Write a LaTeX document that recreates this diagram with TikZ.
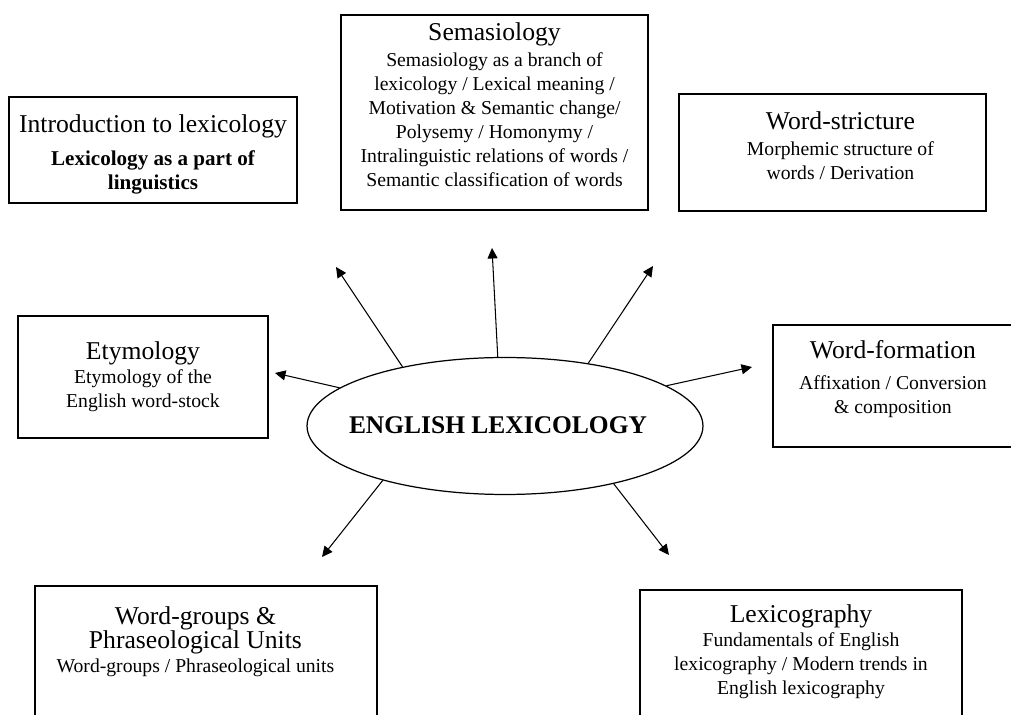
\documentclass[tikz,border=0pt]{standalone}
\usepackage{fontspec}
\setmainfont{Liberation Serif}
\usetikzlibrary{shapes.geometric, arrows.meta, positioning}
\newcommand{\boxtitle}{\fontsize{14.6}{16.5}\selectfont}
\newcommand{\boxsub}{\fontsize{11.2}{13.6}\selectfont}

\begin{document}
\begin{tikzpicture}[
        x=0.02cm, y=-0.02cm,
        box/.style={rectangle, draw, line width=0.7pt, inner sep=0pt},
        txt/.style={align=center, inner sep=0pt, font=\boxsub},
        hub/.style={ellipse, draw, line width=0.7pt, minimum width=7.92cm, minimum height=2.74cm, inner sep=0pt},
        arrow/.style={-{Triangle[length=2.1mm, width=2mm]}, line width=0.6pt}
    ]
        \clip (0,0) rectangle (1011,715);

        % Centre
        \node[hub] (lex) at (505,426) {};
        \node[font=\bfseries\fontsize{14.5}{16}\selectfont] (lexTxt) at (498,425) {ENGLISH LEXICOLOGY};

        % Introduction
        \node[box, minimum width=5.76cm, minimum height=2.12cm] (intro) at (153,150) {};
        \node[txt, below=10.5pt of intro.north] (introTxt) {{\boxtitle Introduction to lexicology}\\[4.7pt]
            {\bfseries\fontsize{12}{13.5}\selectfont Lexicology as a part of}\\
            {\bfseries\fontsize{12}{13.5}\selectfont linguistics}};

        % Semasiology
        \node[box, minimum width=6.14cm, minimum height=3.9cm] (sema) at (494.5,112.5) {};
        \node[txt, below=4.3pt of sema.north] (semaTxt) {{\boxtitle Semasiology}\\[1.5pt]
            Semasiology as a branch of\\ lexicology / Lexical meaning /\\
            Motivation \& Semantic change/\\ Polysemy / Homonymy /\\
            Intralinguistic relations of words /\\ Semantic classification of words};

        % Word structure
        \node[box, minimum width=6.14cm, minimum height=2.34cm] (struct) at (832.5,152.5) {};
        \node[txt, below=10.5pt of struct.north, xshift=4.5pt] (structTxt) {{\boxtitle Word-stricture}\\[1pt]
            Morphemic structure of\\ words / Derivation};

        % Etymology
        \node[box, minimum width=5cm, minimum height=2.44cm] (etym) at (143,377) {};
        \node[txt, below=15pt of etym.north] (etymTxt) {{\boxtitle Etymology}\\
            Etymology of the\\ English word-stock};

        % Word formation
        \node[box, minimum width=4.8cm, minimum height=2.44cm] (form) at (893,386) {};
        \node[txt, below=8.8pt of form.north] (formTxt) {{\boxtitle Word-formation}\\[4pt]
            Affixation / Conversion\\ \& composition};

        % Word groups
        \node[box, minimum width=6.84cm, minimum height=3.48cm] (groups) at (206,673) {};
        \node[txt, below=12.2pt of groups.north, xshift=-6pt] (groupsTxt) {{\boxtitle Word-groups \&}\\
            {\boxtitle Phraseological Units}\\ Word-groups / Phraseological units};

        % Lexicography
        \node[box, minimum width=6.44cm, minimum height=3.4cm] (lexi) at (801,675) {};
        \node[txt, below=8.3pt of lexi.north] (lexiTxt) {{\boxtitle Lexicography}\\[0.5pt]
            Fundamentals of English\\ lexicography / Modern trends in\\ English lexicography};

        % Arrow ends
        \coordinate (toIntro) at (336,267);
        \coordinate (toSema) at (492,248);
        \coordinate (toStruct) at (653,266);
        \coordinate (toForm) at (752,367);
        \coordinate (toEtym) at (275,373);
        \coordinate (toGroups) at (322,557);
        \coordinate (toLexi) at (669,555);

        % Arrows
        \draw[arrow] (lex.150) -- (toIntro);
        \draw[arrow] (lex.96) -- (toSema);
        \draw[arrow] (lex.37) -- (toStruct);
        \draw[arrow] (lex.14) -- (toForm);
        \draw[arrow] (lex.167) -- (toEtym);
        \draw[arrow] (lex.204) -- (toGroups);
        \draw[arrow] (lex.332) -- (toLexi);
    \end{tikzpicture}
\end{document}
